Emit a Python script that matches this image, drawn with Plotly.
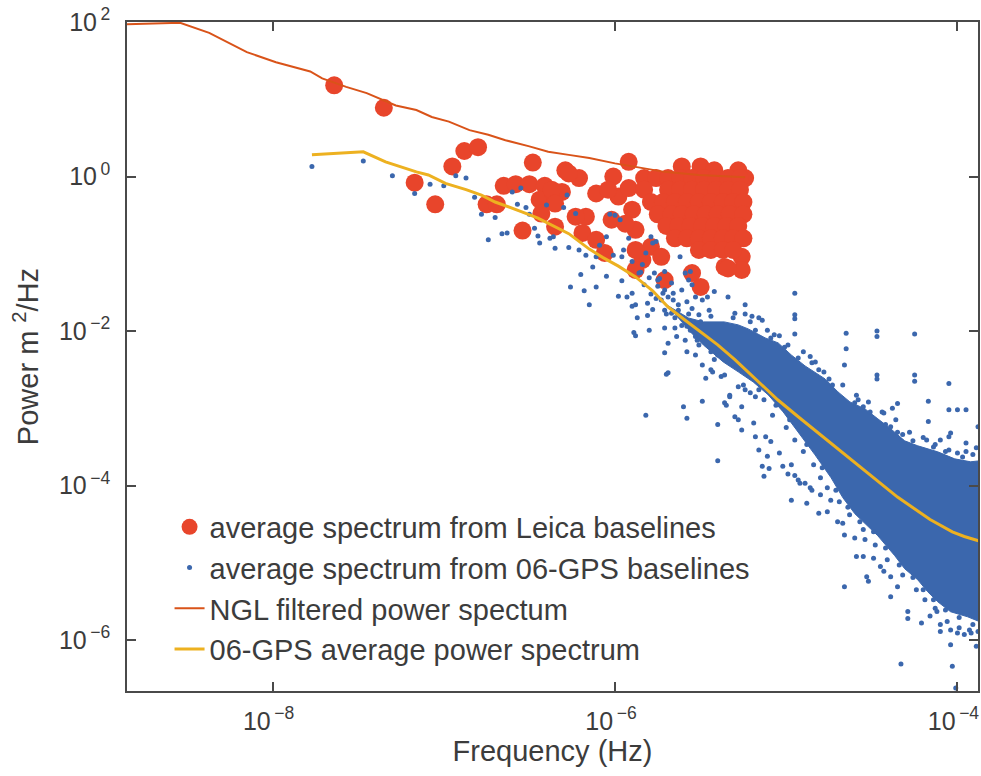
import plotly.graph_objects as go

# ---- values (log10 of frequency in Hz, log10 of power in m^2/Hz) ----

# average spectrum from Leica baselines (big red circles)
leica_pts = [
    (-7.64, 1.18), (-7.35, 0.89), (-6.88, 0.33), (-6.80, 0.38), (-6.95, 0.13), (-7.17, -0.08),
    (-7.05, -0.36), (-6.48, 0.18), (-6.75, -0.36), (-6.69, -0.36), (-6.65, -0.12), (-6.58, -0.10),
    (-6.50, -0.10), (-6.54, -0.70), (-6.41, -0.12), (-6.44, -0.30), (-6.43, -0.48), (-6.36, -0.22),
    (-6.35, -0.65), (-6.29, 0.08), (-6.31, -0.20), (-6.21, -0.02), (-6.17, -0.52), (-6.11, -0.22),
    (-6.01, 0.00), (-5.92, 0.19), (-5.98, -0.26), (-6.19, -0.73), (-6.11, -0.82), (-6.06, -0.99),
    (-6.02, -0.56), (-5.90, -0.43), (-5.88, -0.69), (-5.79, -0.91), (-5.84, -1.08), (-5.88, -1.21),
    (-5.73, -1.04), (-5.71, -1.34), (-5.55, -1.25), (-5.50, -1.43), (-5.36, -1.17), (-5.26, -1.04),
    (-5.26, -1.21), (-5.34, -1.19), (-5.61, 0.13), (-5.50, 0.13), (-5.42, 0.08), (-5.28, 0.08),
    (-5.24, -0.02), (-6.27, 0.04), (-6.37, -0.17), (-6.04, -0.17), (-6.23, -0.52), (-5.92, -0.15),
    (-5.94, -0.61), (-5.88, -0.95), (-6.35, -0.35),
    # dense cluster 2e-6 .. 6e-6 Hz
    (-5.83, -0.02), (-5.76, -0.02), (-5.69, -0.02), (-5.62, -0.02), (-5.55, -0.02), (-5.48, -0.02),
    (-5.41, -0.02), (-5.34, -0.02), (-5.27, -0.02),
    (-5.83, -0.17), (-5.69, -0.17), (-5.62, -0.17), (-5.55, -0.17), (-5.48, -0.17), (-5.41, -0.17),
    (-5.34, -0.17), (-5.27, -0.17),
    (-5.79, -0.33), (-5.72, -0.33), (-5.65, -0.33), (-5.58, -0.33), (-5.51, -0.33), (-5.44, -0.33),
    (-5.37, -0.33), (-5.31, -0.33), (-5.25, -0.33),
    (-5.75, -0.49), (-5.67, -0.49), (-5.61, -0.49), (-5.54, -0.49), (-5.47, -0.49), (-5.40, -0.49),
    (-5.33, -0.49), (-5.25, -0.49),
    (-5.70, -0.64), (-5.63, -0.64), (-5.56, -0.64), (-5.49, -0.64), (-5.42, -0.64), (-5.35, -0.64),
    (-5.28, -0.64),
    (-5.65, -0.80), (-5.58, -0.80), (-5.51, -0.80), (-5.44, -0.80), (-5.37, -0.80), (-5.31, -0.80),
    (-5.25, -0.80),
    (-5.51, -0.95), (-5.44, -0.95), (-5.37, -0.95), (-5.31, -0.95),
]

# average spectrum from 06-GPS baselines (small blue dots)
gps_pts = [
    (-7.77, 0.13), (-7.47, 0.20), (-7.30, 0.01), (-7.17, -0.22), (-7.08, -0.10), (-7.00, -0.12),
    (-6.93, 0.01), (-6.87, -0.02), (-6.82, -0.27), (-6.78, -0.49), (-6.70, -0.53), (-6.74, -0.82),
    (-6.66, -0.74), (-6.63, -0.73), (-6.60, -0.20), (-6.57, -0.36), (-6.52, -0.40), (-6.55, -0.15),
    (-6.50, -0.49), (-6.47, -0.67), (-6.45, -0.77), (-6.44, -0.86), (-6.40, -0.37), (-6.38, -0.80),
    (-6.35, -0.93), (-6.28, -0.24), (-6.30, -0.40), (-6.27, -0.92), (-6.23, -0.48), (-6.26, -1.43),
    (-6.20, -1.27), (-6.18, -1.48), (-6.15, -1.66), (-6.13, -1.17), (-6.11, -1.43), (-6.09, -0.89),
    (-6.05, -1.29), (-6.03, -0.49), (-6.00, -0.50), (-5.97, -0.56), (-5.96, -1.35), (-5.96, -1.04),
    (-5.93, -1.56), (-5.90, -1.51), (-5.86, -1.25), (-5.82, -0.99), (-5.79, -0.78), (-5.76, -0.84),
    (-5.75, -1.34), (-5.71, -1.47), (-5.66, -1.51), (-5.61, -1.47), (-5.62, -1.04), (-5.56, -1.23),
    (-5.49, -1.60), (-5.42, -1.49), (-5.34, -1.56), (-5.24, -1.66), (-5.30, -1.77), (-5.81, -1.64),
    (-5.88, -1.66), (-6.17, -1.02), (-6.01, -1.02), (-5.98, -1.55), (-5.90, -1.68), (-5.88, -2.06),
    (-5.87, -1.83), (-5.81, -1.80), (-5.80, -1.99), (-5.78, -1.72), (-5.76, -1.58), (-5.69, -1.56),
    (-5.67, -1.77), (-5.63, -1.66), (-5.58, -1.62), (-5.55, -1.71), (-5.53, -1.56), (-5.51, -1.79),
    (-5.45, -1.73), (-5.44, -1.81), (-5.46, -1.56), (-5.71, -1.73), (-5.71, -1.96), (-5.65, -1.96),
    (-5.64, -2.07), (-5.58, -1.94), (-5.59, -2.12), (-5.53, -2.07), (-5.58, -2.27), (-5.53, -2.31),
    (-5.49, -2.44), (-5.51, -2.18), (-5.47, -2.61), (-5.43, -2.53), (-5.49, -2.91), (-5.42, -2.37),
    (-5.38, -2.59), (-5.36, -2.93), (-5.33, -2.83), (-5.40, -3.21), (-5.28, -3.15), (-5.26, -2.98),
    (-5.28, -2.72), (-5.24, -2.76), (-5.70, -2.56), (-5.69, -2.16), (-5.82, -3.09), (-5.60, -2.98),
    (-5.58, -3.13), (-5.71, -2.28), (-6.36, -0.78), (-6.21, -0.95), (-6.11, -1.04), (-6.05, -0.78),
    (-5.95, -0.95), (-5.92, -0.80), (-5.90, -1.10), (-5.84, -1.14), (-5.78, -0.86), (-5.77, -1.25),
    (-5.74, -1.32), (-5.71, -1.23), (-5.67, -1.38), (-5.59, -1.25), (-5.55, -1.40), (-5.20, -1.81),
    (-5.40, -3.68), (-5.35, -2.96), (-5.13, -3.88), (-5.14, -3.75), (-4.97, -4.19), (-4.88, -4.23),
    (-4.81, -4.36), (-4.66, -4.64), (-4.60, -4.68), (-4.54, -4.70), (-4.67, -4.49), (-5.10, -3.78),
    (-4.99, -3.85), (-4.95, -3.87), (-4.92, -3.97), (-4.86, -4.03), (-4.76, -4.34), (-4.70, -4.47),
    (-4.59, -4.92), (-4.55, -4.92), (-4.49, -4.94), (-4.53, -5.18), (-4.52, -5.24), (-4.66, -5.31),
    (-4.45, -5.05), (-4.43, -5.11), (-4.39, -5.18), (-4.39, -5.44), (-4.35, -5.31), (-4.29, -5.63),
    (-4.29, -5.72), (-4.21, -5.78), (-4.16, -5.69), (-4.13, -5.59), (-4.10, -5.80), (-4.10, -5.89),
    (-4.04, -5.87), (-4.00, -5.91), (-3.96, -5.93), (-3.92, -5.91), (-4.04, -6.06), (-3.89, -6.08),
    (-4.33, -6.31), (-4.03, -6.34), (-4.01, -6.62),
    (-4.95, -1.51), (-4.95, -1.79), (-4.95, -1.84), (-4.95, -2.04), (-4.65, -2.03), (-4.65, -2.23),
    (-4.66, -2.44), (-4.47, -2.00), (-4.47, -2.07), (-4.47, -2.57), (-4.47, -2.62), (-4.25, -2.04),
    (-4.25, -2.57), (-4.25, -2.65), (-4.05, -2.68), (-4.17, -2.91), (-4.17, -3.17), (-4.05, -3.02),
    (-4.00, -3.02), (-3.95, -3.02), (-4.04, -3.32), (-4.05, -3.37), (-3.95, -3.45), (-3.88, -3.24),
    (-5.24, -1.78), (-5.14, -1.86), (-5.07, -2.05), (-4.86, -2.33), (-4.85, -2.41), (-4.75, -2.62),
    (-4.60, -2.93), (-4.55, -2.98), (-4.43, -3.06), (-4.38, -3.00), (-4.35, -2.94), (-4.39, -3.24),
    (-4.32, -3.34), (-4.18, -3.41), (-4.10, -3.41), (-4.00, -3.58),
    (-5.31, -1.83), (-5.18, -1.99), (-5.09, -2.09), (-5.01, -2.21), (-4.93, -2.35), (-4.81, -2.50),
    (-4.73, -2.70), (-4.58, -2.89), (-4.51, -3.05), (-4.42, -3.21), (-4.35, -3.31), (-4.26, -3.42),
    (-4.14, -3.50), (-4.07, -3.56), (-3.97, -3.63), (-3.91, -3.60),
    (-5.16, -2.76), (-5.06, -2.96), (-4.98, -3.15), (-4.88, -3.47), (-4.79, -3.77), (-4.71, -4.06),
    (-4.64, -4.28), (-4.57, -4.47), (-4.49, -4.60), (-4.42, -4.81), (-4.34, -5.03), (-4.26, -5.19),
    (-4.20, -5.35), (-4.14, -5.48), (-4.07, -5.61), (-3.99, -5.71), (-3.91, -5.80),
    (-5.89, -2.02), (-5.69, -2.54), (-5.44, -2.50), (-5.36, -2.57), (-5.33, -2.85), (-5.30, -3.11),
    (-5.26, -3.28), (-5.18, -2.85), (-5.19, -3.19), (-5.18, -3.37), (-5.16, -3.54), (-5.12, -3.37),
    (-5.09, -3.43), (-5.11, -3.62), (-5.04, -3.58), (-5.02, -3.75), (-4.97, -3.73), (-4.93, -3.93),
    (-4.89, -3.97), (-4.85, -4.06), (-4.80, -4.12), (-4.74, -4.19), (-5.57, -1.34),
    # band along the average spectrum, 2e-6 .. 4e-6 Hz
    (-5.85, -1.24), (-5.83, -1.40), (-5.80, -1.31), (-5.79, -1.52), (-5.75, -1.42), (-5.73, -1.60),
    (-5.72, -1.51), (-5.70, -1.78), (-5.66, -1.60), (-5.65, -1.83), (-5.63, -1.73), (-5.61, -1.93),
    (-5.57, -1.78), (-5.56, -1.99), (-5.54, -1.88), (-5.52, -2.12), (-5.50, -1.88), (-5.44, -2.27),
    (-5.40, -2.31),
    # ragged upper edge of the dense mass
    (-5.21, -1.88), (-5.16, -1.83), (-5.11, -1.99), (-5.04, -2.06), (-4.99, -2.18), (-4.90, -2.27),
    (-4.83, -2.40), (-4.78, -2.53), (-4.67, -2.70), (-4.59, -2.83), (-4.52, -2.92), (-4.44, -3.05),
    (-4.36, -3.15), (-4.28, -3.31), (-4.20, -3.38), (-4.13, -3.47), (-4.05, -3.54), (-3.95, -3.56),
    (-3.89, -3.51),
    # ragged lower edge of the dense mass
    (-5.25, -2.70), (-5.21, -2.80), (-5.13, -2.89), (-5.08, -3.09), (-5.00, -3.25), (-4.95, -3.41),
    (-4.90, -3.56), (-4.84, -3.73), (-4.80, -3.90), (-4.76, -4.03), (-4.69, -4.21), (-4.63, -4.38),
    (-4.55, -4.57), (-4.48, -4.77), (-4.41, -4.96), (-4.32, -5.16), (-4.24, -5.35), (-4.19, -5.48),
    (-4.12, -5.63), (-4.06, -5.76), (-3.99, -5.84), (-3.93, -5.87), (-3.88, -5.89),
]

# outline of the region where the 06-GPS dots merge into a solid mass
gps_core_f = [-5.70, -5.571, -5.484, -5.362, -5.280, -5.222, -5.123, -5.047, -4.971, -4.890, -4.773,
              -4.698, -4.628, -4.540, -4.465, -4.389, -4.308, -4.232, -4.115, -4.016, -3.923, -3.87,
              -3.87, -3.941, -4.040, -4.115, -4.174, -4.232, -4.308, -4.366, -4.465, -4.535, -4.599,
              -4.669, -4.738, -4.832, -4.931, -5.018, -5.105, -5.193, -5.280, -5.368, -5.484, -5.571]
gps_core_p = [-1.66, -1.831, -1.882, -1.882, -1.921, -1.973, -2.089, -2.154, -2.309, -2.452, -2.620,
              -2.788, -2.918, -3.008, -3.137, -3.267, -3.422, -3.486, -3.564, -3.655, -3.693, -3.680,
              -5.763, -5.699, -5.634, -5.505, -5.375, -5.220, -5.078, -4.909, -4.651, -4.495, -4.366,
              -4.159, -3.900, -3.603, -3.306, -3.047, -2.827, -2.659, -2.529, -2.400, -2.180, -1.986]

# NGL filtered power spectrum
ngl_f = [-8.86, -8.54, -8.37, -8.15, -7.98, -7.90, -7.78, -7.71, -7.57, -7.45, -7.36, -7.28, -7.16,
         -7.07, -6.97, -6.85, -6.74, -6.64, -6.50, -6.39, -6.27, -6.15, -6.00, -5.84, -5.71, -5.51,
         -5.32, -5.24]
ngl_p = [1.97, 1.99, 1.86, 1.61, 1.48, 1.43, 1.36, 1.27, 1.16, 1.08, 0.99, 0.92, 0.86,
         0.77, 0.71, 0.60, 0.54, 0.47, 0.39, 0.32, 0.28, 0.24, 0.17, 0.11, 0.06, 0.02,
         0.00, -0.01]

# 06-GPS average power spectrum
avg_f = [-7.77, -7.47, -7.34, -7.16, -7.09, -6.99, -6.87, -6.78, -6.70, -6.62, -6.54, -6.45, -6.35,
         -6.27, -6.15, -6.07, -5.98, -5.88, -5.78, -5.69, -5.59, -5.50, -5.40, -5.30, -5.16, -5.05,
         -4.93, -4.74, -4.54, -4.35, -4.16, -4.03, -3.96, -3.87]
avg_p = [0.28, 0.32, 0.19, 0.06, 0.02, -0.09, -0.17, -0.24, -0.33, -0.39, -0.46, -0.54, -0.65,
         -0.74, -0.94, -1.05, -1.16, -1.30, -1.48, -1.69, -1.86, -2.01, -2.18, -2.37, -2.66, -2.89,
         -3.11, -3.45, -3.80, -4.15, -4.44, -4.60, -4.66, -4.72]

x_tick_exp = [-8, -6, -4]
y_tick_exp = [2, 0, -2, -4, -6]

legend_names = [
    "average spectrum from Leica baselines",
    "average spectrum from 06-GPS baselines",
    "NGL filtered power spectum",
    "06-GPS average power spectrum",
]

RED = "#e8452b"
BLUE = "#3b67ad"
NGL = "#d95319"
YEL = "#edb120"
AX = "#4a4a4a"
TXT = "#3c3c3c"
FONT = "Liberation Sans, Arial, Helvetica, sans-serif"


def lin(v):
    return [10 ** a for a in v]


def tick_text(e):
    return "10<sup>\u2009" + str(e).replace("-", "\u2212") + "</sup>"


fig = go.Figure()

fig.add_trace(go.Scatter(
    x=lin([p[0] for p in leica_pts]), y=lin([p[1] for p in leica_pts]),
    mode="markers", name=legend_names[0],
    marker=dict(color=RED, size=18, line=dict(width=0)),
))

fig.add_trace(go.Scatter(
    x=lin(gps_core_f), y=lin(gps_core_p), mode="lines", fill="toself",
    fillcolor=BLUE, line=dict(color=BLUE, width=1), showlegend=False, hoverinfo="skip",
))

fig.add_trace(go.Scatter(
    x=lin([p[0] for p in gps_pts]), y=lin([p[1] for p in gps_pts]),
    mode="markers", name=legend_names[1],
    marker=dict(color=BLUE, size=5, line=dict(width=0)),
))

fig.add_trace(go.Scatter(
    x=lin(ngl_f), y=lin(ngl_p), mode="lines", name=legend_names[2],
    line=dict(color=NGL, width=2),
))

fig.add_trace(go.Scatter(
    x=lin(avg_f), y=lin(avg_p), mode="lines", name=legend_names[3],
    line=dict(color=YEL, width=3),
))

fig.update_layout(
    width=981, height=776,
    margin=dict(l=127, r=1, t=22, b=85),
    paper_bgcolor="white", plot_bgcolor="white",
    font=dict(family=FONT, color=TXT, size=25),
    showlegend=True,
    legend=dict(
        x=0.05, y=0.2833, xanchor="left", yanchor="top",
        bgcolor="rgba(0,0,0,0)", borderwidth=0,
        font=dict(family=FONT, size=29, color=TXT),
        itemsizing="trace", tracegroupgap=0,
    ),
)

fig.update_xaxes(
    type="log", range=[-8.85, -3.88],
    tickvals=[10 ** e for e in x_tick_exp],
    ticktext=[tick_text(e) for e in x_tick_exp],
    ticks="inside", ticklen=9, tickwidth=1.5, tickcolor=AX,
    showline=True, linecolor=AX, linewidth=1.5, mirror="ticks",
    showgrid=False, zeroline=False, ticklabelstandoff=7,
    ticklabeloverflow="allow", ticklabelshift=-4,
    tickfont=dict(family=FONT, size=25, color=TXT),
    title=dict(text="Frequency (Hz)", font=dict(family=FONT, size=29, color=TXT), standoff=3),
)

fig.update_yaxes(
    type="log", range=[-6.66, 2.0],
    tickvals=[10 ** e for e in y_tick_exp],
    ticktext=[tick_text(e) for e in y_tick_exp],
    ticks="inside", ticklen=9, tickwidth=1.5, tickcolor=AX,
    showline=True, linecolor=AX, linewidth=1.5, mirror="ticks",
    showgrid=False, zeroline=False, ticklabelstandoff=10,
    tickfont=dict(family=FONT, size=25, color=TXT),
    title=dict(text="Power m <sup>2</sup>/Hz", font=dict(family=FONT, size=29, color=TXT), standoff=12),
)

fig.write_html(
    "out.html",
    config={"displayModeBar": False},
    post_script="document.body.style.margin='0';document.body.style.overflow='hidden';",
)
